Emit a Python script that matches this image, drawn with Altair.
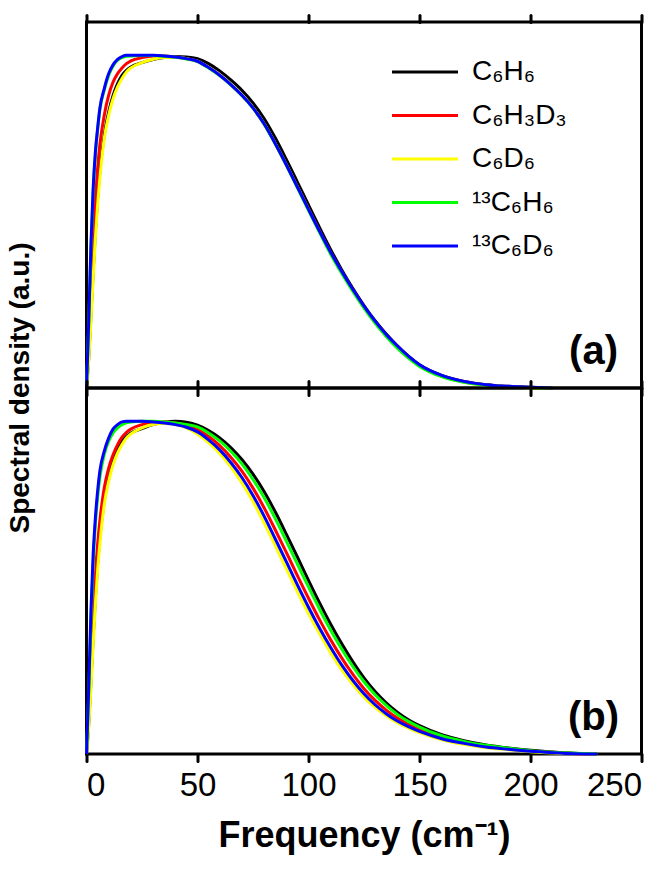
import altair as alt
import pandas as pd

# Species shown in both panels, in legend / drawing order
names = ["C₆H₆", "C₆H₃D₃", "C₆D₆", "¹³C₆H₆", "¹³C₆D₆"]
colors = ["#000000", "#ff0000", "#ffff00", "#00ff00", "#0000ff"]

# Frequency grid (cm^-1)
freq_a = [0, 1, 2, 3, 4, 5, 6, 8, 10, 12, 14, 16, 18, 20, 25, 30, 35, 40, 45, 50,
          55, 60, 65, 70, 75, 80, 85, 90, 95, 100, 105, 110, 115, 120, 125, 130,
          135, 140, 145, 150, 160, 170, 180, 190, 200, 210]
freq_b = freq_a + [220, 230]

# Panel (a) spectral densities
a_c6h6 = [0, 0.09, 0.22, 0.35, 0.47, 0.57, 0.65,
          0.76, 0.83, 0.88, 0.915, 0.94, 0.955, 0.965,
          0.978, 0.987, 0.993, 0.996, 0.995, 0.99,
          0.975, 0.953, 0.926, 0.895, 0.857, 0.81, 0.752, 0.687, 0.619, 0.55,
          0.482, 0.416, 0.355, 0.299, 0.248, 0.202, 0.162, 0.127, 0.096, 0.07,
          0.038, 0.02, 0.01, 0.005, 0.002, 0]
a_c6h3d3 = [0, 0.13, 0.3, 0.45, 0.57, 0.66, 0.73,
            0.82, 0.88, 0.92, 0.945, 0.962, 0.975, 0.983,
            0.993, 0.998, 0.998, 0.995, 0.99, 0.982,
            0.963, 0.94, 0.912, 0.88, 0.842, 0.794, 0.735, 0.671, 0.604, 0.537,
            0.471, 0.407, 0.349, 0.294, 0.244, 0.199, 0.159, 0.125, 0.094, 0.068,
            0.036, 0.019, 0.009, 0.004, 0.001, 0]
a_c6d6 = [0, 0.08, 0.2, 0.33, 0.45, 0.55, 0.63,
          0.75, 0.82, 0.87, 0.905, 0.93, 0.95, 0.962,
          0.978, 0.988, 0.993, 0.994, 0.99, 0.982,
          0.963, 0.94, 0.912, 0.88, 0.842, 0.794, 0.735, 0.671, 0.604, 0.537,
          0.47, 0.406, 0.347, 0.292, 0.242, 0.197, 0.157, 0.123, 0.092, 0.067,
          0.035, 0.018, 0.008, 0.004, 0.001, 0]
a_13c6h6 = [0, 0.19, 0.42, 0.59, 0.7, 0.775, 0.835,
            0.895, 0.94, 0.968, 0.985, 0.993, 0.997, 0.998,
            0.999, 0.999, 0.997, 0.994, 0.989, 0.981,
            0.962, 0.939, 0.911, 0.879, 0.841, 0.793, 0.734, 0.67, 0.602, 0.534,
            0.467, 0.402, 0.344, 0.29, 0.24, 0.195, 0.155, 0.12, 0.09, 0.065,
            0.034, 0.017, 0.008, 0.004, 0.001, 0]
a_13c6d6 = [0, 0.2, 0.43, 0.6, 0.71, 0.78, 0.84,
            0.9, 0.945, 0.972, 0.988, 0.996, 1.0, 1.0,
            1.0, 1.0, 0.998, 0.995, 0.99, 0.982,
            0.963, 0.94, 0.912, 0.88, 0.842, 0.794, 0.735, 0.671, 0.604, 0.537,
            0.471, 0.408, 0.35, 0.296, 0.246, 0.201, 0.161, 0.127, 0.096, 0.07,
            0.038, 0.02, 0.01, 0.005, 0.002, 0]

# Panel (b) spectral densities
b_c6h6 = [0, 0.09, 0.22, 0.35, 0.47, 0.57, 0.65,
          0.76, 0.83, 0.88, 0.915, 0.94, 0.955, 0.965,
          0.978, 0.99, 0.997, 1.0, 0.997, 0.988,
          0.972, 0.95, 0.921, 0.885, 0.841, 0.789, 0.728, 0.661, 0.592, 0.522,
          0.454, 0.39, 0.331, 0.277, 0.229, 0.188, 0.154, 0.126, 0.103, 0.085,
          0.058, 0.04, 0.027, 0.018, 0.011, 0.006, 0.002, 0]
b_c6h3d3 = [0, 0.12, 0.28, 0.42, 0.54, 0.63, 0.7,
            0.8, 0.86, 0.9, 0.93, 0.952, 0.967, 0.977,
            0.99, 0.997, 0.998, 0.995, 0.988, 0.975,
            0.954, 0.927, 0.892, 0.85, 0.799, 0.74, 0.674, 0.606, 0.536, 0.468,
            0.403, 0.343, 0.288, 0.239, 0.196, 0.161, 0.132, 0.108, 0.089, 0.073,
            0.05, 0.034, 0.023, 0.015, 0.009, 0.005, 0.001, 0]
b_c6d6 = [0, 0.08, 0.2, 0.33, 0.45, 0.55, 0.63,
          0.75, 0.82, 0.87, 0.905, 0.93, 0.95, 0.962,
          0.98, 0.99, 0.993, 0.99, 0.98, 0.961,
          0.936, 0.903, 0.863, 0.815, 0.759, 0.695, 0.627, 0.557, 0.488, 0.422,
          0.361, 0.304, 0.253, 0.209, 0.171, 0.14, 0.115, 0.094, 0.078, 0.064,
          0.043, 0.029, 0.019, 0.013, 0.007, 0.003, 0.001, 0]
b_13c6h6 = [0, 0.18, 0.4, 0.57, 0.69, 0.77, 0.83,
            0.9, 0.94, 0.965, 0.98, 0.99, 0.995, 0.998,
            1.0, 1.0, 0.998, 0.995, 0.99, 0.983,
            0.965, 0.941, 0.91, 0.872, 0.825, 0.771, 0.708, 0.64, 0.571, 0.502,
            0.435, 0.372, 0.315, 0.263, 0.217, 0.178, 0.146, 0.119, 0.098, 0.081,
            0.055, 0.038, 0.026, 0.017, 0.01, 0.005, 0.002, 0]
b_13c6d6 = [0, 0.2, 0.43, 0.6, 0.71, 0.79, 0.85,
            0.91, 0.95, 0.977, 0.99, 0.998, 1.0, 1.0,
            1.0, 0.998, 0.995, 0.99, 0.982, 0.968,
            0.944, 0.914, 0.876, 0.831, 0.777, 0.715, 0.647, 0.578, 0.508, 0.441,
            0.378, 0.32, 0.267, 0.221, 0.181, 0.148, 0.121, 0.099, 0.082, 0.068,
            0.046, 0.032, 0.021, 0.014, 0.008, 0.004, 0.001, 0]

tick_values = [0, 50, 100, 150, 200, 250]
y_title = "Spectral density (a.u.)"
x_title = "Frequency (cm⁻¹)"
FONT = "Liberation Sans"
W, H = 555, 366


def long_table(freq, series):
    rows = []
    for name, vals in zip(names, series):
        for f, v in zip(freq, vals):
            rows.append({"freq": f, "dens": v, "species": name})
    return pd.DataFrame(rows)


df_a = long_table(freq_a, [a_c6h6, a_c6h3d3, a_c6d6, a_13c6h6, a_13c6d6])
df_b = long_table(freq_b, [b_c6h6, b_c6h3d3, b_c6d6, b_13c6h6, b_13c6d6])

x_scale = alt.Scale(domain=[0, 250], nice=False)
y_scale = alt.Scale(domain=[0, 1.1], nice=False)
color_scale = alt.Scale(domain=names, range=colors)

tick_style = dict(values=tick_values, tickSize=7, tickWidth=3, tickColor="black",
                  tickCap="round", domain=False, grid=False)


def text_layer(txt, size, x, y, angle=0):
    props = dict(font=FONT, fontSize=size, fontWeight="bold", color="black",
                 align="center", baseline="middle")
    if angle:
        props["angle"] = angle
    return (
        alt.Chart(pd.DataFrame({"txt": [txt]}))
        .mark_text(**props)
        .encode(text="txt:N", x=alt.value(x), y=alt.value(y))
    )


def panel(df, label, with_labels, legend, shared_title):
    layers = []
    for i, name in enumerate(names):
        if i == 0:
            if with_labels:
                x_axis = alt.Axis(orient="bottom", labels=True, labelFontSize=33,
                                  labelFont=FONT, labelColor="black", labelPadding=8,
                                  title=x_title, titleFont=FONT,
                                  titleFontSize=36, titleFontWeight="bold",
                                  titleColor="black", titlePadding=16, **tick_style)
            else:
                x_axis = alt.Axis(orient="bottom", labels=False, title=None, **tick_style)
        elif i == 1:
            x_axis = alt.Axis(orient="top", labels=False, title=None, **tick_style)
        else:
            x_axis = None
        layers.append(
            alt.Chart(df)
            .transform_filter(alt.datum.species == name)
            .mark_line(strokeWidth=3, interpolate="monotone")
            .encode(
                x=alt.X("freq:Q", scale=x_scale, axis=x_axis),
                y=alt.Y("dens:Q", scale=y_scale, axis=None),
                color=alt.Color("species:N", scale=color_scale, legend=legend),
            )
        )
    layers.append(text_layer(label, 40, 507, 330))
    if shared_title:
        # vertical title centred on the junction of the two panels
        layers.append(text_layer(shared_title, 28, -66, H, angle=270))
    return alt.layer(*layers).resolve_axis(x="independent").properties(width=W, height=H)


legend = alt.Legend(orient="none", legendX=324.5, legendY=36, title=None,
                    symbolType="M-3,0H3", symbolSize=484, symbolStrokeWidth=3,
                    labelFont=FONT, labelFontSize=28, labelColor="black",
                    labelOffset=33, rowPadding=15.5, padding=0, labelLimit=400)

top = panel(df_a, "(a)", False, legend, y_title)
bottom = panel(df_b, "(b)", True, None, None)

chart = (
    alt.vconcat(top, bottom, spacing=0, bounds="flush")
    .resolve_scale(color="independent")
    .configure(font=FONT, padding={"left": 4.5, "top": 12, "right": 0, "bottom": 0})
    .configure_view(stroke="black", strokeWidth=3)
)

chart.save("out.html", embed_options={"renderer": "svg", "actions": False})
